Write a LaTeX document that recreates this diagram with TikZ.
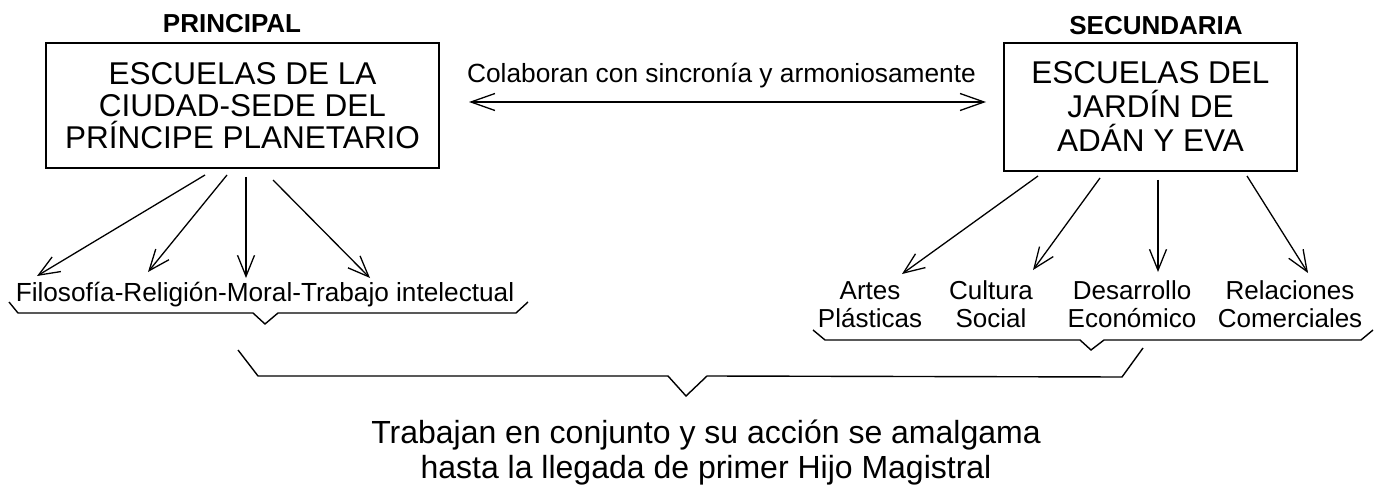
\documentclass[tikz,border=0pt]{standalone}
\usepackage{fontspec}
\setmainfont{Liberation Sans}
\usetikzlibrary{arrows.meta}
\newcommand{\setfs}[2]{\fontsize{#1}{#2}\selectfont}
\begin{document}
\begin{tikzpicture}[x=1pt,y=-1pt,line width=1.3pt,
  headtxt/.style={font=\bfseries\setfs{26}{30},anchor=base,inner sep=0pt},
  box/.style={draw,line width=1.8pt,align=center,inner sep=0pt},
  lbl/.style={align=center,anchor=base,inner sep=0pt,font=\setfs{26}{28}},
  arr/.style={-{Straight Barb[length=21pt,width=17pt,line width=1.3pt]}},
  dbl/.style={{Straight Barb[length=24pt,width=17pt,line width=1.3pt]}-{Straight Barb[length=24pt,width=17pt,line width=1.3pt]}},
  brace/.style={line width=1.4pt,line join=miter}]
\useasboundingbox (0,0) rectangle (1375,486);

% headings
\node[headtxt] (prin) at (232,33) {PRINCIPAL};
\node[headtxt] (secu) at (1156,35) {SECUNDARIA};

% boxes
\node[box,minimum width=393pt,minimum height=125pt,font=\setfs{31.5}{32}] (esc1) at (242.5,105.5)
  {ESCUELAS DE LA\\CIUDAD-SEDE DEL\\PRÍNCIPE PLANETARIO};
\node[box,minimum width=293pt,minimum height=128pt,font=\setfs{31.5}{34}] (esc2) at (1150.5,107)
  {ESCUELAS DEL\\JARDÍN DE\\ADÁN Y EVA};

% collaboration arrow
\node[anchor=base,inner sep=0pt,font=\setfs{26.3}{30}] (colab) at (721.5,83) {Colaboran con sincronía y armoniosamente};
\coordinate (cl) at (469,102);
\coordinate (cr) at (986,102);
\draw[dbl] (cl) -- (cr);

% left branch
\node[anchor=base,inner sep=0pt,font=\setfs{26.2}{30}] (fil) at (265,301) {Filosofía-Religión-Moral-Trabajo intelectual};
\coordinate (a1s) at (205,175); \coordinate (a1e) at (37,276);
\coordinate (a2s) at (227,175); \coordinate (a2e) at (148,272);
\coordinate (a3s) at (246,177); \coordinate (a3e) at (246,278);
\coordinate (a4s) at (273,180); \coordinate (a4e) at (370,278);
\foreach \i in {1,2,3,4} {\draw[arr] (a\i s) -- (a\i e);}

% right branch
\node[lbl] (artes) at (870,327) {Artes\\Plásticas};
\node[lbl] (cult) at (991,327) {Cultura\\Social};
\node[lbl] (desa) at (1132,327) {Desarrollo\\Económico};
\node[lbl] (rela) at (1290,327) {Relaciones\\Comerciales};
\coordinate (b1s) at (1038,176); \coordinate (b1e) at (902,274);
\coordinate (b2s) at (1100,178); \coordinate (b2e) at (1033,270);
\coordinate (b3s) at (1158,180); \coordinate (b3e) at (1158,272);
\coordinate (b4s) at (1247,176); \coordinate (b4e) at (1308,273);
\foreach \i in {1,2,3,4} {\draw[arr] (b\i s) -- (b\i e);}

% braces
\draw[brace] (9,302) -- (18,313) -- (253,313) -- (265,324) -- (278,313) -- (516,313) -- (528,302);
\draw[brace] (813,330) -- (825,340) -- (1080,340) -- (1091,350) -- (1104,340) -- (1361,340) -- (1373,330);
\draw[brace] (238,350) -- (258,376) -- (668,376) -- (686,396) -- (707,376) -- (1122,377) -- (1143,348);

% conclusion
\node[lbl,font=\setfs{32}{35}] (trab) at (706,478) {Trabajan en conjunto y su acción se amalgama\\hasta la llegada de primer Hijo Magistral};
\end{tikzpicture}
\end{document}
